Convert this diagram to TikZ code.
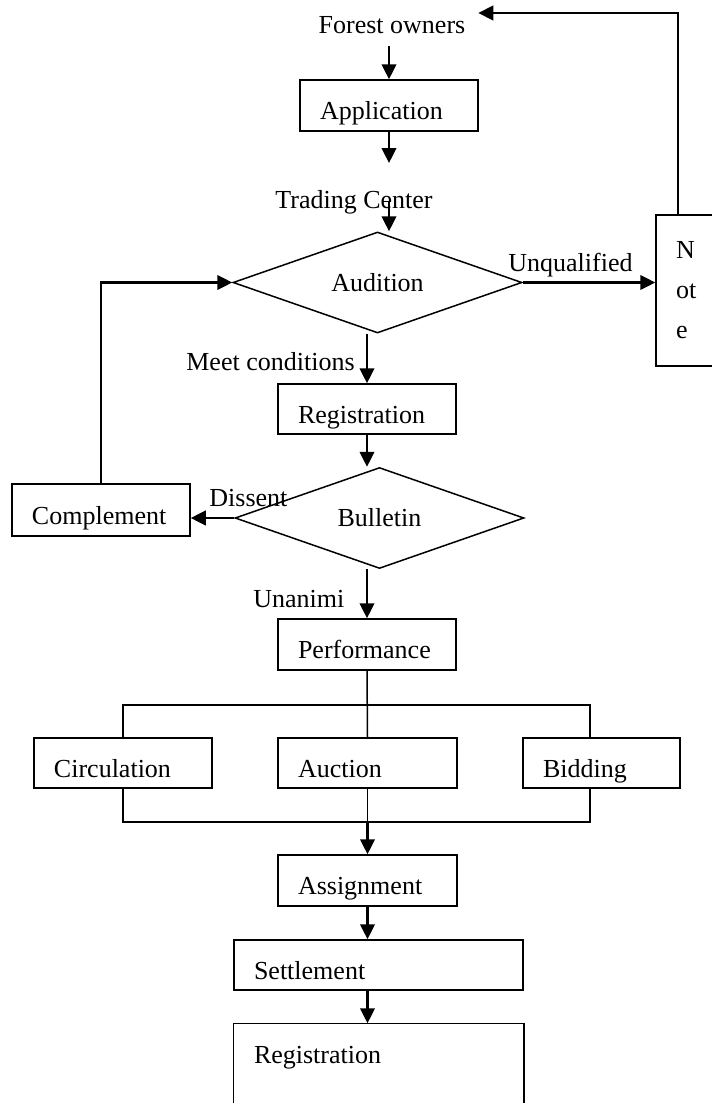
\documentclass[tikz,border=0pt]{standalone}
\usepackage{fontspec}
\setmainfont{Liberation Serif}
\usetikzlibrary{arrows.meta, shapes.geometric}

\tikzset{
    box/.style={draw, line width=0.75pt, align=left, text width=#1, inner xsep=10pt, inner ysep=2pt, minimum height=25pt, text height=14pt, text depth=0pt},
    decision/.style={diamond, draw, line width=0.75pt, inner sep=0pt, aspect=2.86, minimum width=144.5pt, minimum height=50.5pt},
    lbl/.style={inner sep=0pt, anchor=base west},
    arr/.style={-{Triangle[length=7.5pt, width=7.3pt]}, line width=1.1pt},
    link/.style={line width=0.75pt},
}

\begin{document}
\begin{tikzpicture}[x=0.5pt, y=-0.5pt, font=\fontsize{13}{15.6}\selectfont]
    \useasboundingbox (0,0) rectangle (712,1103);
    \node (owners) [inner sep=6.3pt, anchor=base] at (392,33) {Forest owners};
    \node (app) [box=69pt, minimum height=25.5pt] at (389,105.5) {Application};
    \coordinate (tc) at (389,163);
    \node (trading) [anchor=base] at (354,208) {Trading Center};
    \node (audit) [decision] at (377.5,282.5) {Audition\hspace{14.5pt}};
    \node (note) [draw, line width=0.75pt, align=left, text width=20pt, inner xsep=10pt, minimum height=75.5pt, font=\fontsize{13}{20}\selectfont] at (696,290.5) {N\\ot\\e};
    \node (unq) [lbl] at (508,271) {Unqualified};
    \node (meet) [inner sep=0pt, anchor=base east] at (355,370) {Meet conditions};
    \node (reg1) [box=69pt] at (367,409) {Registration};
    \node (bull) [decision] at (379.5,518) {Bulletin\hspace{20.5pt}};
    \node (comp) [box=69pt, minimum height=26pt] at (101,510) {Complement};
    \node (dissent) [lbl] at (209,506) {Dissent};
    \node (unan) [lbl] at (253,607) {Unanimi};
    \node (perf) [box=69pt, minimum height=25.5pt] at (367,644.5) {Performance};
    \node (circ) [box=69pt] at (123,763) {Circulation};
    \node (auct) [box=69.5pt] at (367.5,763) {Auction};
    \node (bid) [box=58.5pt] at (601.5,763) {Bidding};
    \node (assign) [box=69.5pt, minimum height=25.5pt] at (367.5,880.5) {Assignment};
    \node (settle) [box=124.5pt] at (378.5,965) {Settlement};
    \node (reg2) [box=124.5pt, draw=none] at (378.5,1049) {Registration};
    \coordinate (forkL) at (123,705);
    \coordinate (forkR) at (590,705);
    \coordinate (joinL) at (123,822);
    \coordinate (joinR) at (590,822);
    \coordinate (turn) at (678,13);
    \draw[arr] (owners.south -| app.north) -- (app.north);
    \draw[arr] (app.south) -- (tc);
    \draw[arr] (trading.center -| tc) -- (audit.north -| tc);
    \draw[arr] (audit.east) -- (note.west |- audit.east);
    \draw[arr] (note.north -| turn) -- (turn) -- (turn -| owners.east);
    \draw[arr] (audit.south -| reg1.north) -- (reg1.north);
    \draw[arr] (reg1.south) -- (bull.north -| reg1.south);
    \draw[arr] (bull.west) -- (comp.east |- bull.west);
    \draw[arr] (comp.north) |- (audit.west);
    \draw[arr] (bull.south -| perf.north) -- (perf.north);
    \draw[link] (perf.south) -- (auct.north);
    \draw[link] (circ.north) -- (forkL) -- (forkR) -- (forkR |- bid.north);
    \draw[link] (circ.south) -- (joinL) -- (joinR) -- (joinR |- bid.south);
    \draw[link] (auct.south) -- (auct.south |- joinL);
    \draw[arr] (auct.south |- joinL) -- (assign.north);
    \draw[arr] (assign.south) -- (assign.south |- settle.north);
    \draw[arr] (settle.south -| assign.south) -- (reg2.north -| assign.south);
    \draw[link] ([yshift=-30pt]reg2.south west) -- (reg2.north west) -- (reg2.north east) -- ([yshift=-30pt]reg2.south east);
\end{tikzpicture}
\end{document}
